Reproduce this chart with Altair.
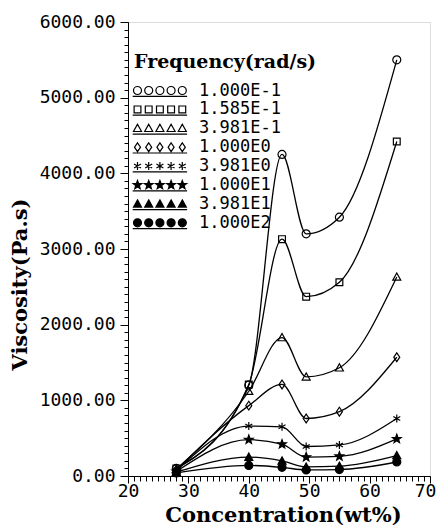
import math
import altair as alt
import pandas as pd

# ---- data ----
concentration = [28, 40, 45.5, 49.5, 55, 64.5]
freq_labels = ["1.000E-1", "1.585E-1", "3.981E-1", "1.000E0",
               "3.981E0", "1.000E1", "3.981E1", "1.000E2"]
visc_01 = [100, 1200, 4250, 3200, 3420, 5500]
visc_01585 = [100, 1210, 3130, 2370, 2560, 4420]
visc_03981 = [90, 1120, 1830, 1310, 1430, 2630]
visc_1 = [80, 930, 1210, 760, 850, 1570]
visc_3981 = [70, 660, 650, 390, 410, 760]
visc_10 = [60, 480, 420, 250, 260, 490]
visc_3981b = [50, 250, 200, 120, 130, 270]
visc_100 = [40, 140, 115, 80, 85, 185]
series = [visc_01, visc_01585, visc_03981, visc_1,
          visc_3981, visc_10, visc_3981b, visc_100]

rows = []
for lab, vals in zip(freq_labels, series):
    for xv, yv in zip(concentration, vals):
        rows.append({"freq": lab, "x": xv, "y": yv})
df = pd.DataFrame(rows)

# ---- marker shapes (unit-space SVG paths) ----
def circle(cx, r=1.0):
    return f"M{cx-r:.3f},0A{r},{r} 0 1,0 {cx+r:.3f},0A{r},{r} 0 1,0 {cx-r:.3f},0Z"

def square(cx, h=0.85):
    return f"M{cx-h:.3f},{-h}H{cx+h:.3f}V{h}H{cx-h:.3f}Z"

def triangle(cx):
    return f"M{cx:.3f},-1L{cx+1:.3f},0.8L{cx-1:.3f},0.8Z"

def diamond(cx):
    return f"M{cx:.3f},-1.1L{cx+0.75:.3f},0L{cx:.3f},1.1L{cx-0.75:.3f},0Z"

def asterisk(cx):
    return (f"M{cx:.3f},-1V1M{cx-0.87:.3f},-0.5L{cx+0.87:.3f},0.5"
            f"M{cx-0.87:.3f},0.5L{cx+0.87:.3f},-0.5")

def star(cx, ro=1.15, ri=0.48):
    pts = []
    for i in range(10):
        r = ro if i % 2 == 0 else ri
        a = -math.pi / 2 + i * math.pi / 5
        pts.append(f"{cx + r*math.cos(a):.3f},{r*math.sin(a):.3f}")
    return "M" + "L".join(pts) + "Z"

marker_fns = [circle, square, triangle, diamond, asterisk, star, triangle, circle]
fills = ["transparent"] * 5 + ["black"] * 3
strokes = ["black"] * 8

plot_shapes = [fn(0) for fn in marker_fns]
spacing = 2.8
start = -1.25
legend_shapes = [
    "".join(fn(start + i * spacing) for i in range(5))
    + f"M{start-1.2:.2f},1.45H{start+4*spacing+1.2:.2f}"
    for fn in marker_fns
]

tick_font = "DejaVu Sans Mono"
title_font = "DejaVu Serif"

main_x_axis = alt.Axis(values=list(range(20, 71, 10)), format="d", orient="bottom",
                       tickSize=7, labelPadding=-1, labelFont=tick_font, labelFontSize=18,
                       labelOffset={"condition": {"test": "datum.value >= 70", "value": -5},
                                    "value": 0},
                       labelColor="black", tickColor="black", domainColor="black",
                       grid=False, labelFlush=False,
                       title="Concentration(wt%)", titleFont=title_font, titleFontSize=21,
                       titleFontWeight="bold", titleColor="black",
                       titleX=155, titleY=45, titleAlign="center", titleBaseline="alphabetic")
main_y_axis = alt.Axis(values=list(range(0, 6001, 1000)), format=".2f", orient="left",
                       tickSize=8, labelPadding=5, labelFont=tick_font, labelFontSize=18,
                       labelColor="black", tickColor="black", domainColor="black",
                       grid=False, labelFlush=False,
                       title="Viscosity(Pa.s)", titleFont=title_font, titleFontSize=21,
                       titleFontWeight="bold", titleColor="black", titleAngle=270,
                       titleX=-108, titleY=262, titleAlign="center", titleBaseline="middle")
minor_x_axis = alt.Axis(values=list(range(20, 71, 1)), labels=False, orient="bottom",
                        tickSize=5, tickColor="black", domain=False, grid=False, title=None)
minor_y_axis = alt.Axis(values=list(range(0, 6001, 100)), labels=False, orient="left",
                        tickSize=4, tickColor="black", domain=False, grid=False, title=None)

base = alt.Chart(df)

lines = base.mark_line(interpolate="monotone", color="black", strokeWidth=1.3).encode(
    x=alt.X("x:Q", scale=alt.Scale(domain=[20, 70], nice=False, zero=False), axis=main_x_axis),
    y=alt.Y("y:Q", scale=alt.Scale(domain=[0, 6000], nice=False), axis=main_y_axis),
    detail="freq:N",
)

minor = base.mark_point(opacity=0).encode(
    x=alt.X("x:Q", axis=minor_x_axis),
    y=alt.Y("y:Q", axis=minor_y_axis),
)

points = base.mark_point(size=64, strokeWidth=1.2, opacity=1, stroke="black").encode(
    x=alt.X("x:Q", axis=None),
    y=alt.Y("y:Q", axis=None),
    shape=alt.Shape("freq:N", scale=alt.Scale(domain=freq_labels, range=plot_shapes), legend=None),
    fill=alt.Fill("freq:N", scale=alt.Scale(domain=freq_labels, range=fills), legend=None),
)

leg = alt.Legend(title="Frequency(rad/s)", orient="none", legendX=6, legendY=31,
                 padding=0, symbolSize=64, symbolStrokeWidth=1.2, symbolStrokeColor="black",
                 labelOffset=48, labelFont=tick_font, labelFontSize=17, labelColor="black",
                 titleFont=title_font, titleFontSize=19, titleFontWeight="bold",
                 titleColor="black", titlePadding=10, rowPadding=0.9, titleLimit=400)

legend_layer = base.transform_filter("datum.x < 0").mark_point(
    size=64, strokeWidth=1.2, opacity=1).encode(
    x=alt.X("x:Q", axis=None),
    y=alt.Y("y:Q", axis=None),
    shape=alt.Shape("freq:N", scale=alt.Scale(domain=freq_labels, range=legend_shapes), legend=leg),
    fill=alt.Fill("freq:N", scale=alt.Scale(domain=freq_labels, range=fills), legend=leg),
    stroke=alt.Stroke("freq:N", scale=alt.Scale(domain=freq_labels, range=strokes), legend=leg),
)

chart = alt.layer(lines, minor, points, legend_layer).resolve_scale(
    shape="independent", fill="independent", stroke="independent"
).resolve_axis(x="independent", y="independent").properties(
    width=302, height=454,
    padding={"left": 120, "top": 14, "right": 6, "bottom": 49},
    autosize=alt.AutoSizeParams(type="none"),
).configure_view(stroke="black", strokeWidth=1.5).configure(background="white")

chart.save("out.html", embed_options={"renderer": "svg", "actions": False})
